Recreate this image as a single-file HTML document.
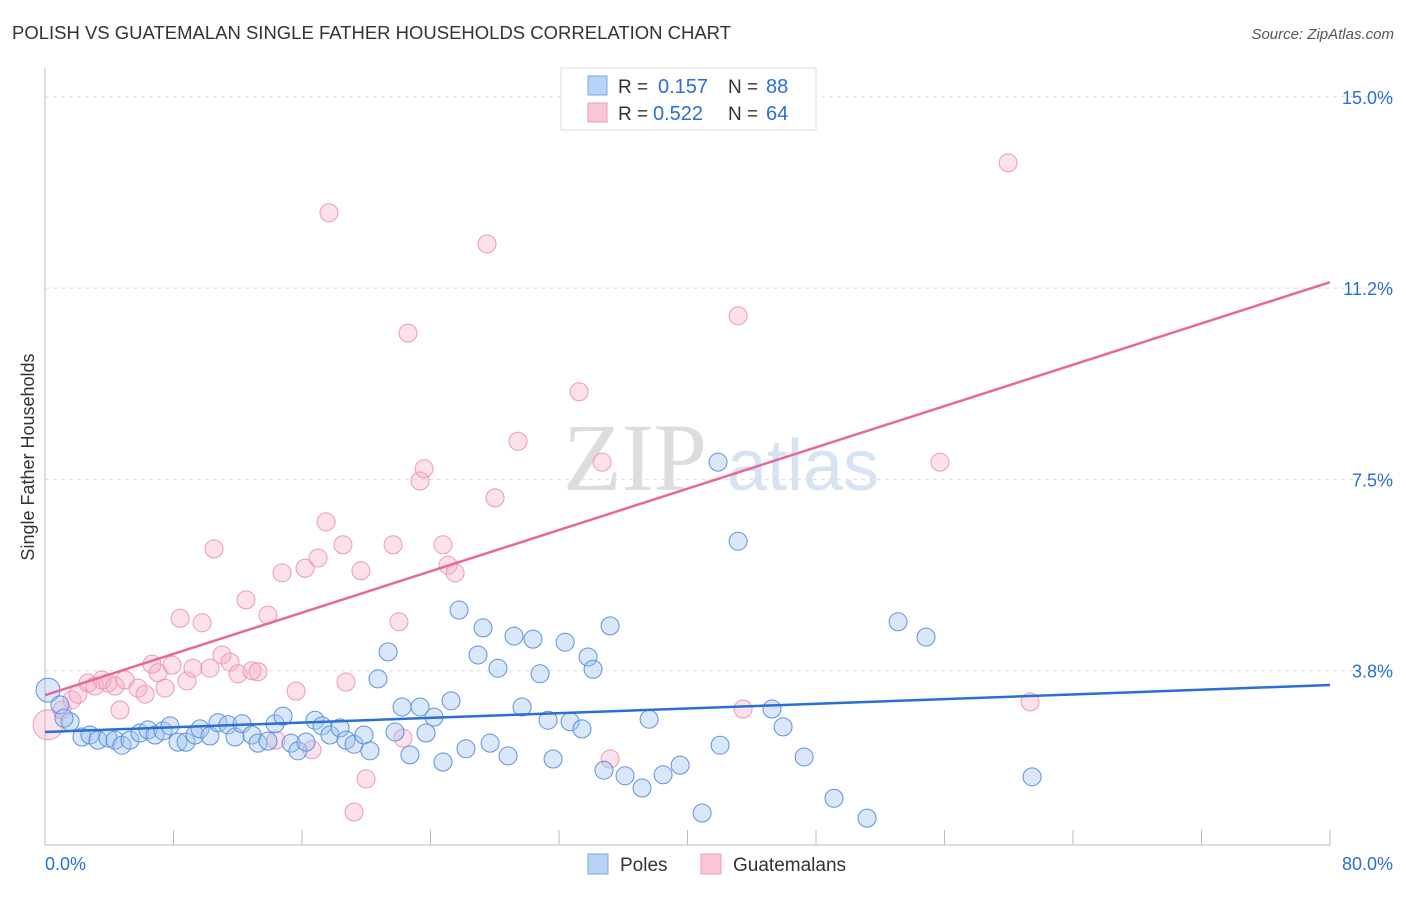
<!DOCTYPE html>
<html><head><meta charset="utf-8">
<style>
body{margin:0;background:#fff;font-family:"Liberation Sans",sans-serif;}
svg text{font-family:"Liberation Sans",sans-serif;}
</style></head>
<body>
<svg id="c" width="1406" height="892" xmlns="http://www.w3.org/2000/svg">
<text x="12" y="39" font-size="18" fill="#333" textLength="719" lengthAdjust="spacingAndGlyphs">POLISH VS GUATEMALAN SINGLE FATHER HOUSEHOLDS CORRELATION CHART</text>
<text x="1394" y="39" font-size="15" fill="#555" font-style="italic" text-anchor="end">Source: ZipAtlas.com</text>
<text x="34" y="457" font-size="18" fill="#333" text-anchor="middle" transform="rotate(-90 34 457)">Single Father Households</text>
<g>
<text x="635" y="490" font-size="96" fill="#ddd" text-anchor="middle" font-family="Liberation Serif" style="font-family:'Liberation Serif',serif">ZIP</text>
<text x="803" y="490" font-size="72" fill="#d5e3f3" text-anchor="middle">atlas</text>
</g>
<g id="grid"></g>
<g id="marks"></g>
<g>
<rect x="561" y="68" width="255" height="62" fill="#fff" stroke="#ddd"/>
<rect x="588" y="76" width="19" height="19" fill="#b8d3f5" stroke="#7aa8e6"/>
<text x="618" y="93" font-size="19" fill="#333">R =</text>
<text x="658" y="93" font-size="20" fill="#2a6fd6">0.157</text>
<text x="728" y="93" font-size="19" fill="#333">N =</text>
<text x="766" y="93" font-size="20" fill="#2a6fd6">88</text>
<rect x="588" y="103" width="19" height="19" fill="#f9c6d5" stroke="#ee9ab2"/>
<text x="618" y="120" font-size="19" fill="#333">R =</text>
<text x="653" y="120" font-size="20" fill="#2a6fd6">0.522</text>
<text x="728" y="120" font-size="19" fill="#333">N =</text>
<text x="766" y="120" font-size="20" fill="#2a6fd6">64</text>
</g>
<g>
<rect x="588" y="854" width="20" height="20" fill="#b8d3f5" stroke="#7aa8e6"/>
<text x="620" y="871" font-size="19" fill="#333">Poles</text>
<rect x="701" y="854" width="20" height="20" fill="#f9c6d5" stroke="#ee9ab2"/>
<text x="733" y="871" font-size="19" fill="#333">Guatemalans</text>
</g>
</svg>
<script>
const yTicks=[3.8,7.5,11.2,15.0];
const yTickLabels=["3.8%","7.5%","11.2%","15.0%"];
const xTickLabels=["0.0%","80.0%"];
const polesX=[0.19,0.93,1.56,2.30,2.80,3.30,3.92,4.36,4.79,5.29,5.91,6.41,6.85,7.35,7.78,8.28,8.78,9.34,9.65,10.27,10.77,11.39,11.83,12.27,12.89,13.26,13.88,14.32,14.82,15.32,15.75,16.25,16.81,17.25,17.74,18.37,18.74,19.24,19.86,20.23,20.73,21.36,21.79,22.23,22.72,23.35,23.72,24.22,24.78,25.28,25.78,26.21,26.96,27.27,27.71,28.20,28.83,29.20,29.70,30.38,30.82,31.32,31.63,32.38,32.69,33.43,33.81,34.12,34.80,35.18,36.11,37.17,37.61,38.48,39.54,40.91,41.90,42.03,43.15,45.26,45.95,47.26,49.12,51.18,53.11,54.85,61.45,1.18];
const polesY=[3.37,3.08,2.75,2.45,2.49,2.39,2.43,2.39,2.29,2.39,2.53,2.59,2.49,2.57,2.67,2.35,2.35,2.49,2.61,2.47,2.73,2.69,2.45,2.71,2.49,2.33,2.37,2.71,2.86,2.33,2.18,2.35,2.78,2.67,2.49,2.63,2.39,2.31,2.49,2.18,3.59,4.12,2.55,3.04,2.10,3.04,2.53,2.84,1.96,3.16,4.94,2.22,4.06,4.59,2.33,3.80,2.08,4.43,3.04,4.37,3.69,2.78,2.02,4.31,2.75,2.61,4.02,3.78,1.80,4.63,1.69,1.45,2.80,1.71,1.90,0.96,7.84,2.29,6.29,3.00,2.65,2.06,1.25,0.86,4.71,4.41,1.67,2.82];
const guatX=[0.19,1.06,1.68,2.05,2.68,3.11,3.55,3.92,4.36,4.98,4.67,5.79,6.23,6.66,7.04,7.47,7.91,8.41,8.84,9.21,9.78,10.27,10.52,11.02,11.52,12.02,12.51,12.89,13.26,13.88,14.38,14.76,15.63,16.19,16.62,17.00,17.50,17.68,18.55,18.74,19.24,19.67,19.99,21.67,22.04,22.29,22.60,23.35,23.60,24.78,25.09,25.53,27.52,28.02,29.45,33.25,34.68,35.18,43.15,43.46,55.72,59.96,61.33];
const guatY=[2.69,2.98,3.18,3.29,3.51,3.45,3.57,3.51,3.45,3.57,2.98,3.41,3.29,3.88,3.71,3.41,3.86,4.78,3.55,3.80,4.69,3.80,6.14,4.06,3.92,3.69,5.14,3.75,3.73,4.84,2.39,5.67,3.35,5.76,2.20,5.96,6.67,12.73,6.22,3.53,0.98,5.71,1.63,6.22,4.71,2.43,10.37,7.47,7.71,6.22,5.82,5.67,12.12,7.14,8.25,9.22,7.84,2.02,10.71,3.00,7.84,13.71,3.14];
const polesLine=[2.55,3.47];
const guatLine=[3.27,11.37];
const X0=45,X1=1330,Y0=862,YP=765/15;
const sx=v=>X0+(v/80)*(X1-X0);
const sy=v=>Y0-v*YP;
const NS="http://www.w3.org/2000/svg";
function mk(tag,attrs,parent){const e=document.createElementNS(NS,tag);for(const k in attrs)e.setAttribute(k,attrs[k]);parent.appendChild(e);return e;}
const grid=document.getElementById('grid'),marks=document.getElementById('marks');
let l=mk('line',{x1:45,y1:68,x2:45,y2:845,stroke:'#bbb'},grid);


l=mk('line',{x1:45,y1:845,x2:1330,y2:845,stroke:'#bbb'},grid);


for(let i=0;i<=10;i++){const x=X0+i*(X1-X0)/10;const t=mk('line',{x1:x,y1:830,x2:x,y2:845,stroke:'#bbb'},grid);

}
yTicks.forEach((v,i)=>{const yy=Y0-(i+1)*191.3;
const g=mk('line',{x1:45,y1:yy,x2:1394,y2:yy,stroke:'#ddd','stroke-dasharray':'4,4'},grid);


const t=mk('text',{x:1393,y:yy+7,'font-size':18,fill:'#2a6fd6','text-anchor':'end'},grid);t.textContent=yTickLabels[i];

});
let t=mk('text',{x:45,y:870,'font-size':18,fill:'#2a6fd6'},grid);t.textContent=xTickLabels[0];


t=mk('text',{x:1393,y:870,'font-size':18,fill:'#2a6fd6','text-anchor':'end'},grid);t.textContent=xTickLabels[1];


guatX.forEach((x,i)=>{const c=mk('circle',{cx:sx(x),cy:sy(guatY[i]),r:i==0?15:9,fill:'rgba(246,170,195,0.35)',stroke:'#ec9ab4','stroke-width':1},marks);

});
polesX.forEach((x,i)=>{const c=mk('circle',{cx:sx(x),cy:sy(polesY[i]),r:i==0?12:9,fill:'rgba(160,196,240,0.4)',stroke:'#5b93e0','stroke-width':1},marks);

});
l=mk('line',{x1:sx(0),y1:sy(guatLine[0]),x2:sx(80),y2:sy(guatLine[1]),stroke:'#e8669a','stroke-width':2.5},marks);


l=mk('line',{x1:sx(0),y1:sy(polesLine[0]),x2:sx(80),y2:sy(polesLine[1]),stroke:'#2a6fd6','stroke-width':2.5},marks);


</script>
</body></html>
